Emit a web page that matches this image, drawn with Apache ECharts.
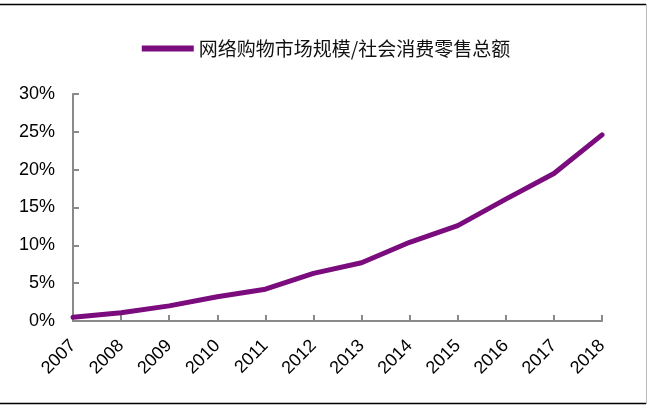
<!DOCTYPE html>
<html>
<head>
<meta charset="utf-8">
<script src="https://cdn.jsdelivr.net/npm/echarts@6/dist/echarts.min.js"></script>
<style>
html,body{margin:0;padding:0;background:#fff;}
#c{width:652px;height:412px;}
</style>
</head>
<body>
<div id="c"></div>
<script>
var categories = ['2007','2008','2009','2010','2011','2012','2013','2014','2015','2016','2017','2018'];
var seriesName = '网络购物市场规模/社会消费零售总额';
var values = [0.5, 1.1, 2.0, 3.2, 4.2, 6.3, 7.7, 10.4, 12.6, 16.1, 19.5, 24.6];
var yTicks = [0, 5, 10, 15, 20, 25, 30];

var chart = echarts.init(document.getElementById('c'), null, {renderer:'canvas'});
var purple = '#7b0c7e';
chart.setOption({
  backgroundColor: '#fff',
  animation: false,
  graphic: [
    {type:'line', shape:{x1:0,y1:4.5,x2:646,y2:4.5}, style:{stroke:'#000', lineWidth:1.5}},
    {type:'line', shape:{x1:0,y1:403.5,x2:646,y2:403.5}, style:{stroke:'#000', lineWidth:1.5}},
    {type:'line', shape:{x1:646.5,y1:4,x2:646.5,y2:404}, style:{stroke:'#bbb', lineWidth:1}}
  ],
  legend: {
    top: 34,
    left: 'center',
    itemWidth: 52,
    itemHeight: 6,
    itemGap: 4,
    textStyle: {fontFamily:'Noto Sans CJK SC', fontSize:19, color:'#111'},
    data: [{name: seriesName, icon: 'path://M0,0 L52,0 L52,6 L0,6 Z'}]
  },
  grid: {left:73, right:50, top:94, bottom:91},
  xAxis: {
    type: 'category',
    data: categories,
    boundaryGap: false,
    axisLine: {lineStyle:{color:'#8a8a8a', width:2}},
    axisTick: {show:true, inside:true, length:6, alignWithLabel:true, lineStyle:{color:'#8a8a8a', width:2}},
    axisLabel: {rotate:45, margin:22, padding:[0,0,0,0], fontFamily:'Liberation Sans', fontSize:18, color:'#000', interval:0}
  },
  yAxis: {
    type: 'value',
    min: 0, max: 30, interval: 5,
    axisLine: {show:true, lineStyle:{color:'#8a8a8a', width:2}},
    axisTick: {show:true, inside:true, length:6, lineStyle:{color:'#8a8a8a', width:2}},
    splitLine: {show:false},
    axisLabel: {formatter:'{value}%', margin:18, fontFamily:'Liberation Sans', fontSize:18, color:'#000'}
  },
  series: [{
    name: seriesName,
    type: 'line',
    data: values,
    symbol: 'none',
    lineStyle: {color: purple, width: 5, cap:'round', join:'round'},
    itemStyle: {color: purple}
  }]
});
</script>
</body>
</html>
